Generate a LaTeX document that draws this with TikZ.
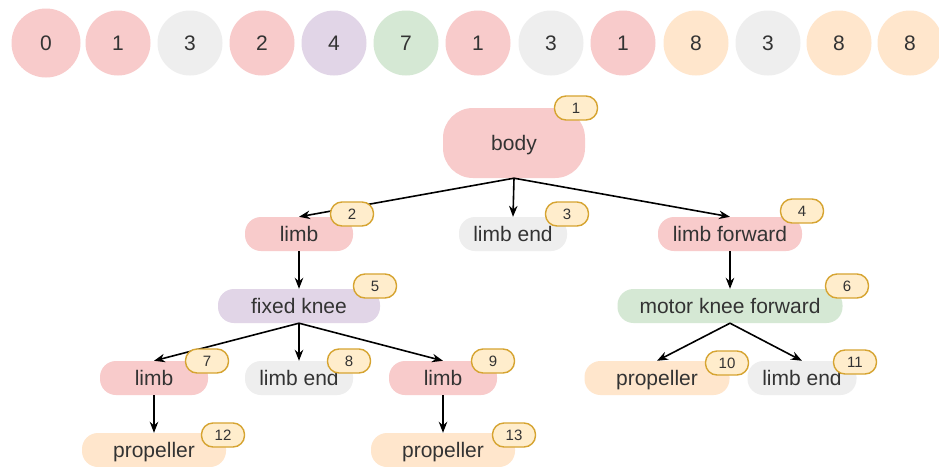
\documentclass[tikz,border=0pt]{standalone}
\usepackage{fontspec}
\setmainfont{Liberation Sans}
\usetikzlibrary{arrows.meta}
\definecolor{redfill}{HTML}{F8CBCB}
\definecolor{greyfill}{HTML}{EEEEEE}
\definecolor{purplefill}{HTML}{E1D5E7}
\definecolor{greenfill}{HTML}{D5E8D4}
\definecolor{orangefill}{HTML}{FFE6CC}
\definecolor{badgefill}{HTML}{FFEDCC}
\definecolor{badgeline}{HTML}{D6A431}
\definecolor{txt}{HTML}{333333}
\begin{document}
\begin{tikzpicture}[x=1pt,y=-1pt,
  pill/.style={rounded corners=16pt, minimum height=34pt, inner sep=0pt,
    text height=16pt, text depth=2pt,
    font=\fontsize{21}{21}\selectfont, text=txt},
  badge/.style={draw=badgeline, fill=badgefill, line width=1.4pt, rounded corners=11.5pt,
    minimum width=43pt, minimum height=24pt, inner sep=0pt,
    font=\fontsize{15}{15}\selectfont, text=txt},
  ball/.style={circle, minimum size=65pt, inner sep=0pt,
    font=\fontsize{21}{21}\selectfont, text=txt},
  link/.style={-{Stealth[length=11pt,width=8.5pt]}, line width=1.6pt, draw=black}
]
\useasboundingbox (0,0) rectangle (939,466);
\fill[white] (0,0) rectangle (939,466);

% sequence of type ids
\node[ball, fill=redfill, minimum size=69pt] (s0) at (46,43) {0};
\node[ball, fill=redfill]    (s1)  at (118,43) {1};
\node[ball, fill=greyfill]   (s2)  at (190,43) {3};
\node[ball, fill=redfill]    (s3)  at (262,43) {2};
\node[ball, fill=purplefill] (s4)  at (334,43) {4};
\node[ball, fill=greenfill]  (s5)  at (406,43) {7};
\node[ball, fill=redfill]    (s6)  at (478,43) {1};
\node[ball, fill=greyfill]   (s7)  at (551,43) {3};
\node[ball, fill=redfill]    (s8)  at (623,43) {1};
\node[ball, fill=orangefill] (s9)  at (696,43) {8};
\node[ball, fill=greyfill]   (s10) at (768,43) {3};
\node[ball, fill=orangefill] (s11) at (839,43) {8};
\node[ball, fill=orangefill] (s12) at (910,43) {8};

% tree of parts
\node[pill, fill=redfill, minimum width=142pt, minimum height=70pt, rounded corners=30pt] (body) at (514,143) {body};
\node[pill, fill=redfill, minimum width=108pt]    (limbA)   at (299,234) {limb};
\node[pill, fill=greyfill, minimum width=108pt]   (endA)    at (513,234) {limb end};
\node[pill, fill=redfill, minimum width=144pt]    (limbF)   at (730,234) {limb forward};
\node[pill, fill=purplefill, minimum width=162pt] (fknee)   at (299,306) {fixed knee};
\node[pill, fill=greenfill, minimum width=225pt]  (mknee)   at (730,306) {motor knee forward};
\node[pill, fill=redfill, minimum width=108pt]    (limbB)   at (154,378) {limb};
\node[pill, fill=greyfill, minimum width=108pt]   (endB)    at (299,378) {limb end};
\node[pill, fill=redfill, minimum width=108pt]    (limbC)   at (443,378) {limb};
\node[pill, fill=orangefill, minimum width=145pt] (propA)   at (657,378) {propeller};
\node[pill, fill=greyfill, minimum width=109pt]   (endC)    at (802,378) {limb end};
\node[pill, fill=orangefill, minimum width=144pt] (propB)   at (154,450) {propeller};
\node[pill, fill=orangefill, minimum width=144pt] (propC)   at (443,450) {propeller};

% connectors
\draw[link] (body.south) -- (limbA.north);
\draw[link] (body.south) -- (endA.north);
\draw[link] (body.south) -- (limbF.north);
\draw[link] (limbA.south) -- (fknee.north);
\draw[link] (limbF.south) -- (mknee.north);
\draw[link] (fknee.south) -- (limbB.north);
\draw[link] (fknee.south) -- (endB.north);
\draw[link] (fknee.south) -- (limbC.north);
\draw[link] (mknee.south) -- (propA.north);
\draw[link] (mknee.south) -- (endC.north);
\draw[link] (limbB.south) -- (propB.north);
\draw[link] (limbC.south) -- (propC.north);

% index badges
\node[badge] (b1)  at (576,108) {1};
\node[badge] (b2)  at (352,214) {2};
\node[badge] (b3)  at (567,214) {3};
\node[badge] (b4)  at (802,211) {4};
\node[badge] (b5)  at (375,286) {5};
\node[badge] (b6)  at (847,286) {6};
\node[badge] (b7)  at (207,361) {7};
\node[badge] (b8)  at (349,361) {8};
\node[badge] (b9)  at (493,361) {9};
\node[badge] (b10) at (727,363) {10};
\node[badge] (b11) at (855,362) {11};
\node[badge] (b12) at (223,435) {12};
\node[badge] (b13) at (514,435) {13};
\end{tikzpicture}
\end{document}
